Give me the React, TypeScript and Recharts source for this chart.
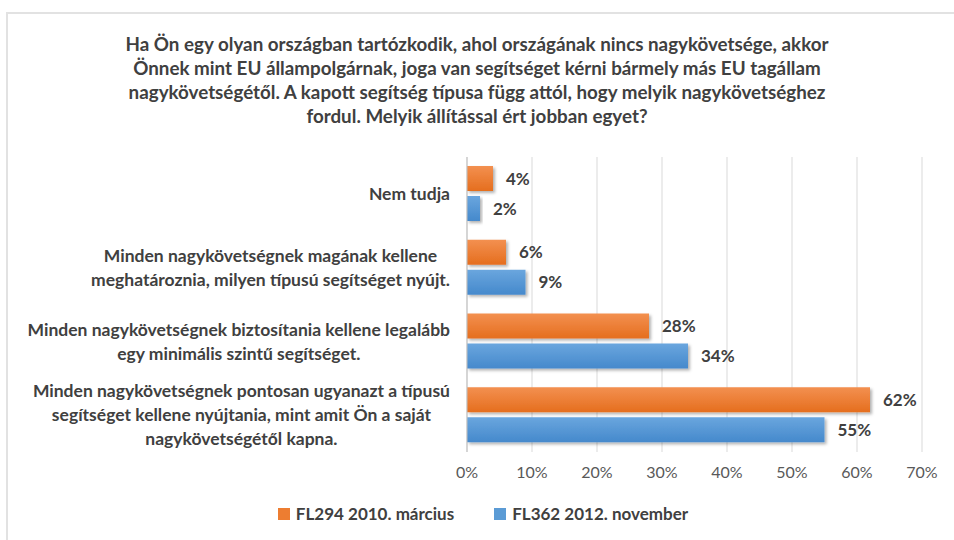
import {
    Bar,
    BarChart,
    CartesianGrid,
    LabelList,
    XAxis,
    YAxis
} from "recharts";

const categories = [
    "Nem tudja",
    "Minden nagykövetségnek magának kellene meghatároznia, milyen típusú segítséget nyújt.",
    "Minden nagykövetségnek biztosítania kellene legalább egy minimális szintű segítséget.",
    "Minden nagykövetségnek pontosan ugyanazt a típusú segítséget kellene nyújtania, mint amit Ön a saját nagykövetségétől kapna."
];

// how the labels wrap in the original
const categoryLines: string[][] = [
    ["Nem tudja"],
    ["Minden nagykövetségnek magának kellene", "meghatároznia, milyen típusú segítséget nyújt."],
    ["Minden nagykövetségnek biztosítania kellene legalább", "egy minimális szintű segítséget."],
    ["Minden nagykövetségnek pontosan ugyanazt a típusú", "segítséget kellene nyújtania, mint amit Ön a saját", "nagykövetségétől kapna."]
];

const fl294 = [4, 6, 28, 62];
const fl362 = [2, 9, 34, 55];

const xTicks = [0, 10, 20, 30, 40, 50, 60, 70];

const seriesNames = ["FL294 2010. március", "FL362 2012. november"];

const titleLines = [
    "Ha Ön egy olyan országban tartózkodik, ahol országának nincs nagykövetsége, akkor",
    "Önnek mint EU állampolgárnak, joga van segítséget kérni bármely más EU tagállam",
    "nagykövetségétől. A kapott segítség típusa függ attól, hogy melyik nagykövetséghez",
    "fordul. Melyik állítással ért jobban egyet?"
];

const FONT = "Lato, 'Open Sans', sans-serif";
const TEXT = "#404040";
const CAT_SIZE = 17.5;

const data = categories.map((c, i) => ({
    category: c,
    a: fl294[i],
    b: fl362[i]
}));

const measure = (() => {
    const canvas = document.createElement("canvas");
    const ctx = canvas.getContext("2d");
    return (text: string) => {
        if (!ctx) return text.length * 8;
        ctx.font = `bold ${CAT_SIZE}px Lato`;
        return ctx.measureText(text).width;
    };
})();

const CategoryTick = (props: any) => {
    const {y, payload} = props;
    const idx = categories.indexOf(payload.value);
    const lines = categoryLines[idx] || [payload.value];
    const maxW = Math.max(...lines.map(measure));
    const right = 450;
    const cx = right - maxW / 2;
    const lh = 24;
    const startY = y - ((lines.length - 1) * lh) / 2;
    return (
        <text x={cx} y={startY} textAnchor="middle" fill={TEXT}
              fontFamily={FONT} fontWeight="bold" fontSize={CAT_SIZE}>
            {lines.map((l, i) => (
                <tspan key={i} x={cx} y={startY + i * lh} dy="0.35em">{l}</tspan>
            ))}
        </text>
    );
};

const App = () => {
    return (
        <div style={{position: "absolute", left: 0, top: 0, width: 954, height: 540, background: "#fff"}}>
            <div style={{position: "absolute", left: 6, top: 12, width: 960, height: 540,
                borderTop: "2px solid #e2e2e2", borderLeft: "2px solid #e2e2e2"}}/>
            <div style={{position: "absolute", left: 0, top: 32, width: 954, textAlign: "center",
                fontFamily: FONT, fontWeight: "bold", fontSize: 18.8, lineHeight: "24px", color: TEXT}}>
                {titleLines.map(l => <div key={l}>{l}</div>)}
            </div>
            <div style={{position: "absolute", left: 0, top: 0}}>
                <BarChart width={954} height={540} data={data} layout="vertical"
                          margin={{top: 157, right: 32, bottom: 58, left: 0}}
                          barSize={25} barGap={5}>
                    <defs>
                        <linearGradient id="gradA" x1="0" y1="0" x2="0" y2="1">
                            <stop offset="0%" stopColor="#F39050"/>
                            <stop offset="100%" stopColor="#E56E1E"/>
                        </linearGradient>
                        <linearGradient id="gradB" x1="0" y1="0" x2="0" y2="1">
                            <stop offset="0%" stopColor="#6AA6DE"/>
                            <stop offset="100%" stopColor="#4589CC"/>
                        </linearGradient>
                        <filter id="shadow" x="-10%" y="-20%" width="130%" height="160%">
                            <feDropShadow dx="2" dy="2" stdDeviation="1.5" floodColor="#000" floodOpacity="0.3"/>
                        </filter>
                    </defs>
                    <CartesianGrid horizontal={false} stroke="#d9d9d9"/>
                    <XAxis type="number" domain={[0, 70]} ticks={xTicks} axisLine={false} tickLine={false}
                           tickFormatter={(v) => v + "%"} tickMargin={9}
                           tick={{fill: "#595959", fontFamily: FONT, fontSize: 16}}/>
                    <YAxis type="category" dataKey="category" width={467} tickLine={false}
                           axisLine={{stroke: "#bfbfbf"}} tick={<CategoryTick/>} interval={0}/>
                    <Bar dataKey="a" name={seriesNames[0]} fill="url(#gradA)" filter="url(#shadow)"
                         isAnimationActive={false}>
                        <LabelList dataKey="a" position="right" offset={13} formatter={(v: any) => v + "%"}
                                   fill={TEXT} fontFamily={FONT} fontWeight="bold" fontSize={17}/>
                    </Bar>
                    <Bar dataKey="b" name={seriesNames[1]} fill="url(#gradB)" filter="url(#shadow)"
                         isAnimationActive={false}>
                        <LabelList dataKey="b" position="right" offset={13} formatter={(v: any) => v + "%"}
                                   fill={TEXT} fontFamily={FONT} fontWeight="bold" fontSize={17}/>
                    </Bar>
                </BarChart>
            </div>
            <div style={{position: "absolute", left: 6, top: 503, width: 954, display: "flex",
                justifyContent: "center", gap: 40, fontFamily: FONT, fontWeight: "bold",
                fontSize: 17, color: TEXT}}>
                {seriesNames.map((n, i) => (
                    <div key={n} style={{display: "flex", alignItems: "center", gap: 6}}>
                        <span style={{width: 12, height: 12, display: "inline-block",
                            background: i === 0 ? "#ED7D31" : "#5B9BD5"}}/>
                        <span>{n}</span>
                    </div>
                ))}
            </div>
        </div>
    );
};

export default App;
